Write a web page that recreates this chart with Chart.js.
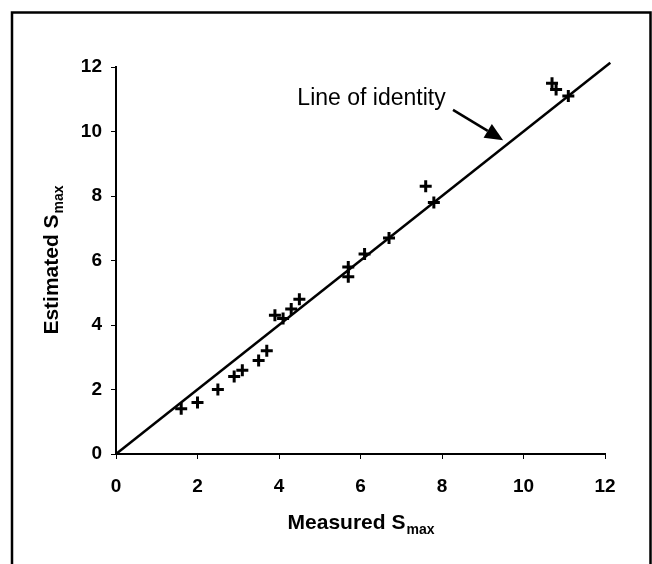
<!DOCTYPE html>
<html>
<head>
<meta charset="utf-8">
<script src="https://cdn.jsdelivr.net/npm/chart.js@4/dist/chart.umd.min.js"></script>
<style>
  html, body { margin: 0; padding: 0; background: #fff; }
  canvas { display: block; }
</style>
</head>
<body>
<canvas id="myChart" width="652" height="564"></canvas>
<script>
// measured vs estimated S_max
const measured = [1.6, 2.0, 2.5, 2.9, 3.1, 3.5, 3.7, 3.9, 4.1, 4.3, 4.5, 5.7, 5.7, 6.1, 6.7, 7.6, 7.8, 10.7, 10.8, 11.1];
const estimated = [1.4, 1.6, 2.0, 2.4, 2.6, 2.9, 3.2, 4.3, 4.2, 4.5, 4.8, 5.8, 5.5, 6.2, 6.7, 8.3, 7.8, 11.5, 11.3, 11.1];
const identityX = [0, 12.13];
const identityY = [0, 12.13];
const axisMin = 0;
const axisMax = 12;
const tickStep = 2;
const xTitle = ["Measured S", "max"];
const yTitle = ["Estimated S", "max"];
const noteText = "Line of identity";

// annotation anchor points, in data units
const notePos = { x: 4.45, y: 10.82 };
const arrowFrom = { x: 8.27, y: 10.67 };
const arrowTo = { x: 9.5, y: 9.73 };

const ctx = document.getElementById("myChart");
const FONT = "'Liberation Sans', Arial, sans-serif";

const framePlugin = {
  id: "frame",
  beforeDraw(chart) {
    const c = chart.ctx;
    c.save();
    c.fillStyle = "#fff";
    c.fillRect(0, 0, chart.width, chart.height);
    c.strokeStyle = "#000";
    c.lineWidth = 2.5;
    c.beginPath();
    c.moveTo(12, chart.height + 2);
    c.lineTo(12, 12.5);
    c.lineTo(650.5, 12.5);
    c.lineTo(650.5, chart.height + 2);
    c.stroke();
    c.restore();
  },
};

function drawSubTitle(c, parts, x, y) {
  c.font = "bold 21px " + FONT;
  const w1 = c.measureText(parts[0]).width;
  c.font = "bold 14px " + FONT;
  const w2 = c.measureText(parts[1]).width;
  const start = x - (w1 + w2) / 2;
  c.textAlign = "left";
  c.textBaseline = "alphabetic";
  c.font = "bold 21px " + FONT;
  c.fillText(parts[0], start, y);
  c.font = "bold 14px " + FONT;
  c.fillText(parts[1], start + w1 + 1, y + 5);
}

const notesPlugin = {
  id: "notes",
  afterDraw(chart) {
    const c = chart.ctx;
    const area = chart.chartArea;
    const xs = chart.scales.x;
    const ys = chart.scales.y;
    c.save();
    c.fillStyle = "#000";

    // axis titles
    drawSubTitle(c, xTitle, (area.left + area.right) / 2, area.bottom + 75);
    c.save();
    c.translate(58, (area.top + area.bottom) / 2);
    c.rotate(-Math.PI / 2);
    drawSubTitle(c, yTitle, 0, 0);
    c.restore();

    // "Line of identity" label and arrow
    c.font = "23px " + FONT;
    c.textAlign = "left";
    c.textBaseline = "alphabetic";
    c.fillText(noteText, xs.getPixelForValue(notePos.x), ys.getPixelForValue(notePos.y));

    const x1 = xs.getPixelForValue(arrowFrom.x);
    const y1 = ys.getPixelForValue(arrowFrom.y);
    const x2 = xs.getPixelForValue(arrowTo.x);
    const y2 = ys.getPixelForValue(arrowTo.y);
    const ang = Math.atan2(y2 - y1, x2 - x1);
    const headLen = 18;
    const headW = 8;
    const bx = x2 - headLen * Math.cos(ang);
    const by = y2 - headLen * Math.sin(ang);
    c.strokeStyle = "#000";
    c.lineWidth = 2.5;
    c.beginPath();
    c.moveTo(x1, y1);
    c.lineTo(bx, by);
    c.stroke();
    c.beginPath();
    c.moveTo(x2, y2);
    c.lineTo(bx + headW * Math.sin(ang), by - headW * Math.cos(ang));
    c.lineTo(bx - headW * Math.sin(ang), by + headW * Math.cos(ang));
    c.closePath();
    c.fill();
    c.restore();
  },
};

const points = measured.map((m, i) => ({ x: m, y: estimated[i] }));
const identity = identityX.map((v, i) => ({ x: v, y: identityY[i] }));

const axisOptions = (isX) => ({
  type: "linear",
  min: axisMin,
  max: axisMax,
  ticks: {
    stepSize: tickStep,
    color: "#000",
    padding: isX ? 16 : 9,
    font: { family: FONT, size: 19, weight: "bold" },
  },
  grid: {
    drawOnChartArea: false,
    drawTicks: true,
    tickLength: 5,
    color: "#000",
    lineWidth: 1,
  },
  border: { display: true, color: "#000", width: 2 },
  afterFit(scale) {
    if (isX) scale.height = 110;
    else scale.width = 116;
  },
});

const chart = new Chart(ctx, {
  type: "scatter",
  data: {
    datasets: [
      {
        label: "Identity",
        type: "line",
        data: identity,
        borderColor: "#000",
        borderWidth: 2.5,
        pointRadius: 0,
        fill: false,
        clip: false,
      },
      {
        label: "Smax",
        data: points,
        pointStyle: "cross",
        pointRadius: 6,
        borderColor: "#000",
        backgroundColor: "#000",
        borderWidth: 3,
      },
    ],
  },
  options: {
    responsive: false,
    animation: false,
    layout: { padding: { top: 67, right: 47, bottom: 0, left: 0 } },
    plugins: {
      legend: { display: false },
      tooltip: { enabled: false },
    },
    scales: {
      x: axisOptions(true),
      y: axisOptions(false),
    },
  },
  plugins: [framePlugin, notesPlugin],
});
</script>
</body>
</html>
